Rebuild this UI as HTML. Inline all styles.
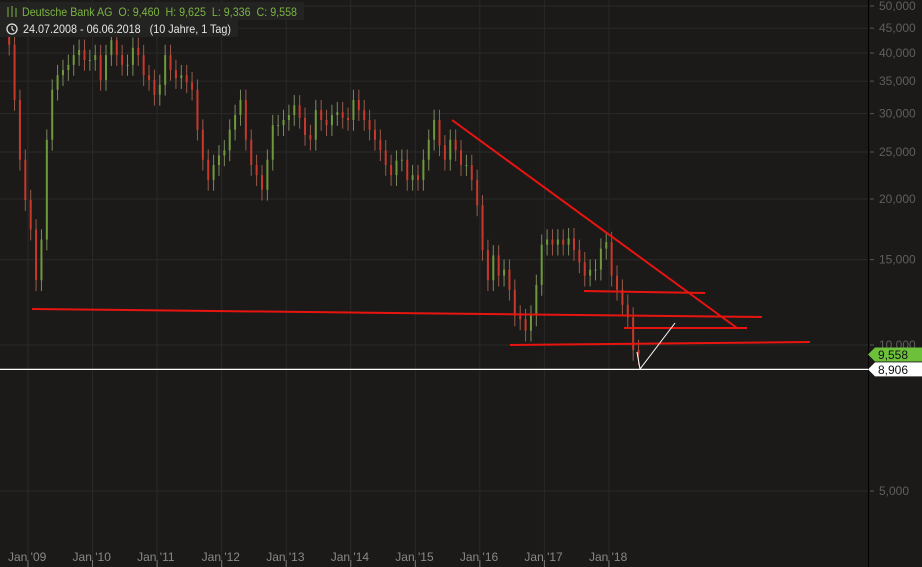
<!DOCTYPE html>
<html><head><meta charset="utf-8"><style>
html,body{margin:0;padding:0;background:#1b1a19;width:922px;height:567px;overflow:hidden}
svg{display:block;font-family:"Liberation Sans",sans-serif}
</style></head><body>
<svg id="chart" width="922" height="567" viewBox="0 0 922 567">
<rect x="0" y="0" width="922" height="567" fill="#1b1a19"/>
<g id="grid"></g>
<g id="candles"></g>
<g id="annotations"></g>
<g id="axes"></g>
<g>
<rect x="0" y="2" width="304" height="18" fill="#232322"/>
<rect x="0" y="20" width="238" height="17" fill="#232322"/>
<g stroke="#7cb342" stroke-width="1" fill="none">
<line x1="8" y1="7" x2="8" y2="17"/><line x1="12" y1="6" x2="12" y2="17"/><line x1="16" y1="8" x2="16" y2="17"/>
</g>
<text x="22" y="16" font-size="12" fill="#7cb342" textLength="275" lengthAdjust="spacingAndGlyphs" xml:space="preserve">Deutsche Bank AG  O: 9,460  H: 9,625  L: 9,336  C: 9,558</text>
<circle cx="12" cy="29" r="5" fill="none" stroke="#e0e0e0" stroke-width="1.3"/>
<path d="M12 26 V29 L14 31" stroke="#e0e0e0" stroke-width="1.2" fill="none"/>
<text x="23" y="33" font-size="12" fill="#e6e6e6" textLength="208" lengthAdjust="spacingAndGlyphs" xml:space="preserve">24.07.2008 - 06.06.2018   (10 Jahre, 1 Tag)</text>
</g>
</svg>
<script>
// Monthly closes Jul 2008 .. Jun 2018 (EUR)
const startYear = 2008, startMonth = 6;
const closes = [47.9,46.8,41.6,32.0,24.1,19.9,17.3,13.6,16.5,26.5,
33.6,36.0,36.9,37.8,39.6,40.6,38.7,38.7,39.6,35.2,
39.6,42.5,39.6,37.8,37.8,41.0,39.6,36.0,35.2,32.8,
34.4,39.6,36.9,35.5,36.0,34.8,33.6,27.8,24.1,21.9,
23.5,24.6,25.2,27.8,29.8,32.0,26.5,23.5,22.4,20.9,
24.1,28.4,28.4,29.1,29.8,31.2,29.4,27.1,26.5,30.5,
29.1,28.4,29.8,30.2,29.4,29.1,32.0,30.5,29.1,27.8,
26.5,25.2,23.5,22.4,24.0,24.1,21.9,22.4,21.9,24.1,
26.5,29.1,25.8,24.1,26.5,25.2,23.5,23.5,21.9,19.4,
15.7,13.6,15.3,13.9,14.3,13.0,11.5,11.3,10.7,11.5,
13.3,16.1,16.5,16.1,16.5,16.1,16.6,15.7,14.8,13.9,
14.3,14.3,15.8,16.3,13.9,13.0,12.1,11.4,9.77,9.56];
const priceTicks = [50,45,40,35,30,25,20,15,10,5];
const yearLabels = ["Jan '09","Jan '10","Jan '11","Jan '12","Jan '13","Jan '14","Jan '15","Jan '16","Jan '17","Jan '18"];
const yearValues = [2009,2010,2011,2012,2013,2014,2015,2016,2017,2018];
const lastClose = 9.558, lowMark = 8.906;

const NS="http://www.w3.org/2000/svg";
function yScale(v){return 345-485*Math.log10(v/10);}
function xScale(yearFrac){return 28+(yearFrac-2009)*64.55;}
function mk(tag,attrs,parent){const e=document.createElementNS(NS,tag);for(const k in attrs)e.setAttribute(k,attrs[k]);parent.appendChild(e);return e;}
const grid=document.getElementById('grid'),cg=document.getElementById('candles'),ann=document.getElementById('annotations'),ax=document.getElementById('axes');

priceTicks.forEach(v=>{const y=yScale(v);
 const l=mk('line',{x1:0,x2:868,y1:y,y2:y,stroke:'#2a2928','stroke-width':1},grid);
 
 
});
yearValues.forEach(yr=>{const x=xScale(yr);
 const l=mk('line',{x1:x,x2:x,y1:0,y2:567,stroke:'#2a2928','stroke-width':1},grid);
 
 
});

closes.forEach((c,i)=>{
 const t=startYear+(startMonth+i)/12+0.5/12;
 const x=xScale(t);
 const o=i>0?closes[i-1]:c;
 const hi=Math.max(o,c)*1.05, lo=Math.min(o,c)*0.95;
 const up=c>=o;const col=up?'#6f9a3c':'#c8392c';
 const w=mk('line',{x1:x,x2:x,y1:yScale(hi),y2:yScale(lo),stroke:up?'#7a8a60':'#9a5a4a','stroke-width':1},cg);
 
 
 const y1=yScale(Math.max(o,c)),y2=yScale(Math.min(o,c));
 const b=mk('rect',{x:x-1,y:y1,width:2,height:Math.max(1,y2-y1),fill:col},cg);
 
 
});

const redLines=[[32,309,762,317],[452,120,737,328],[584,291,705,293],[624,328,747,328],[510,345,810,342]];
redLines.forEach(p=>{
 const l=mk('line',{x1:p[0],y1:p[1],x2:p[2],y2:p[3],stroke:'#e8140f','stroke-width':2},ann);
 
 
});
const wl=mk('polyline',{points:'637,352 640,369 675,323',fill:'none',stroke:'#ffffff','stroke-width':1},ann);


const hl=mk('line',{x1:0,x2:868,y1:yScale(lowMark),y2:yScale(lowMark),stroke:'#ffffff','stroke-width':1.2},ann);



// right axis
const rp=mk('line',{x1:868.5,x2:868.5,y1:0,y2:567,stroke:'#000','stroke-width':1},ax);


priceTicks.forEach(v=>{const y=yScale(v);
 const t=mk('line',{x1:870,x2:874,y1:y,y2:y,stroke:'#555','stroke-width':1},ax);
 
 
 const tx=mk('text',{x:879,y:y+4,'font-size':12,fill:'#5f5f5f'},ax);
 tx.textContent=v.toFixed(3).replace('.',',');
 
 
});
function tag(v,fill,txt,name){const y=yScale(v);
 const p=mk('polygon',{points:`868,${y} 875,${y-7} 922,${y-7} 922,${y+7} 875,${y+7}`,fill:fill},ax);
 
 
 const t=mk('text',{x:878,y:y+4.5,'font-size':12,fill:txt},ax);
 t.textContent=v.toFixed(3).replace('.',',');
 
 
}
tag(lastClose,'#6cc03a','#111','last-price-tag');
tag(lowMark,'#ffffff','#111','line-price-tag');

// bottom axis
yearValues.forEach((yr,i)=>{const x=xScale(yr);
 const t=mk('line',{x1:x,x2:x,y1:560,y2:567,stroke:'#777','stroke-width':1},ax);
 
 
 const tx=mk('text',{x:x-20,y:561,'font-size':12,fill:'#888'},ax);
 tx.textContent=yearLabels[i];
 
 
});
</script>
</body></html>
